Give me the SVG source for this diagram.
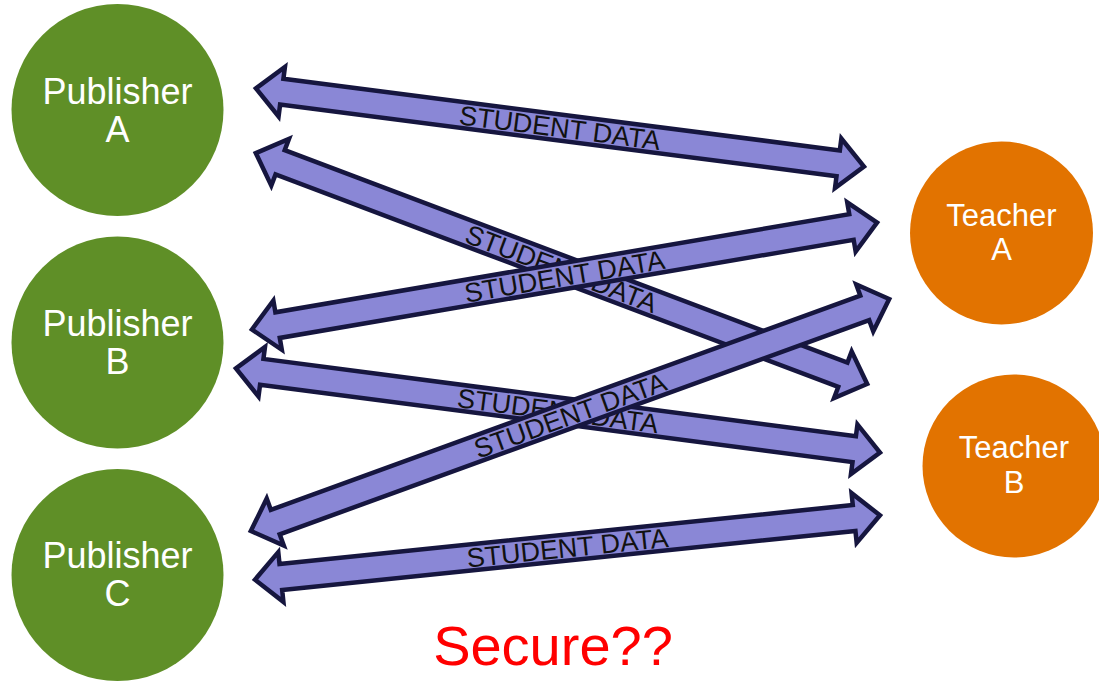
<svg xmlns="http://www.w3.org/2000/svg" width="1099" height="682" viewBox="0 0 1099 682">
<style>
.pub{fill:#5F8F27}
.tch{fill:#E27300}
.nl{font-family:"Liberation Sans",Arial,sans-serif;fill:#fff;text-anchor:middle}
.arr{fill:#8A87D6;stroke:#16163F;stroke-width:4.5;stroke-linejoin:miter}
.lbl{font-family:"Liberation Sans",Arial,sans-serif;font-size:27px;fill:#111;text-anchor:middle}
</style>
<rect width="1099" height="682" fill="#fff"/>
<g id="publisherA"><circle class="pub" cx="117.5" cy="110" r="106"/><text class="nl" font-size="36" x="117.5" y="104">Publisher</text><text class="nl" font-size="36" x="117.5" y="142">A</text></g>
<g id="publisherB"><circle class="pub" cx="117.5" cy="342.5" r="106"/><text class="nl" font-size="36" x="117.5" y="336">Publisher</text><text class="nl" font-size="36" x="117.5" y="374">B</text></g>
<g id="publisherC"><circle class="pub" cx="117.5" cy="575" r="106"/><text class="nl" font-size="36" x="117.5" y="568">Publisher</text><text class="nl" font-size="36" x="117.5" y="606">C</text></g>
<g id="teacherA"><circle class="tch" cx="1001.5" cy="233" r="91.5"/><text class="nl" font-size="31" x="1001.5" y="226">Teacher</text><text class="nl" font-size="31" x="1001.5" y="260">A</text></g>
<g id="teacherB"><circle class="tch" cx="1014" cy="466" r="91.5"/><text class="nl" font-size="31" x="1014" y="458">Teacher</text><text class="nl" font-size="31" x="1014" y="493">B</text></g>
<g id="connectors">
<g transform="translate(253,88) rotate(7.33)"><path class="arr" d="M3,0 L29,-25 L29,-13 L590,-13 L590,-25 L616,0 L590,25 L590,13 L29,13 L29,25 Z"/><text class="lbl" x="309.5" y="9.7">STUDENT DATA</text></g>
<g transform="translate(253,152) rotate(20.69)"><path class="arr" d="M3,0 L29,-25 L29,-13 L630.5,-13 L630.5,-25 L656.5,0 L630.5,25 L630.5,13 L29,13 L29,25 Z"/><text class="lbl" x="329.8" y="9.7">STUDENT DATA</text></g>
<g transform="translate(233,368) rotate(7.45)"><path class="arr" d="M3,0 L29,-25 L29,-13 L626.5,-13 L626.5,-25 L652.5,0 L626.5,25 L626.5,13 L29,13 L29,25 Z"/><text class="lbl" x="327.8" y="9.7">STUDENT DATA</text></g>
<g transform="translate(249,330) rotate(-9.71)"><path class="arr" d="M3,0 L29,-25 L29,-13 L611.2,-13 L611.2,-25 L637.2,0 L611.2,25 L611.2,13 L29,13 L29,25 Z"/><text class="lbl" x="320.1" y="9.7">STUDENT DATA</text></g>
<g transform="translate(252,580) rotate(-5.88)"><path class="arr" d="M3,0 L29,-25 L29,-13 L605.3,-13 L605.3,-25 L631.3,0 L605.3,25 L605.3,13 L29,13 L29,25 Z"/><text class="lbl" x="317.2" y="9.7">STUDENT DATA</text></g>
<g transform="translate(248,532) rotate(-19.97)"><path class="arr" d="M3,0 L29,-25 L29,-13 L656.2,-13 L656.2,-25 L682.2,0 L656.2,25 L656.2,13 L29,13 L29,25 Z"/><text class="lbl" x="342.6" y="9.7">STUDENT DATA</text></g>
</g>
<text x="553" y="665" font-family="'Liberation Sans',Arial,sans-serif" font-size="56" fill="#FF0000" text-anchor="middle">Secure??</text>
</svg>
